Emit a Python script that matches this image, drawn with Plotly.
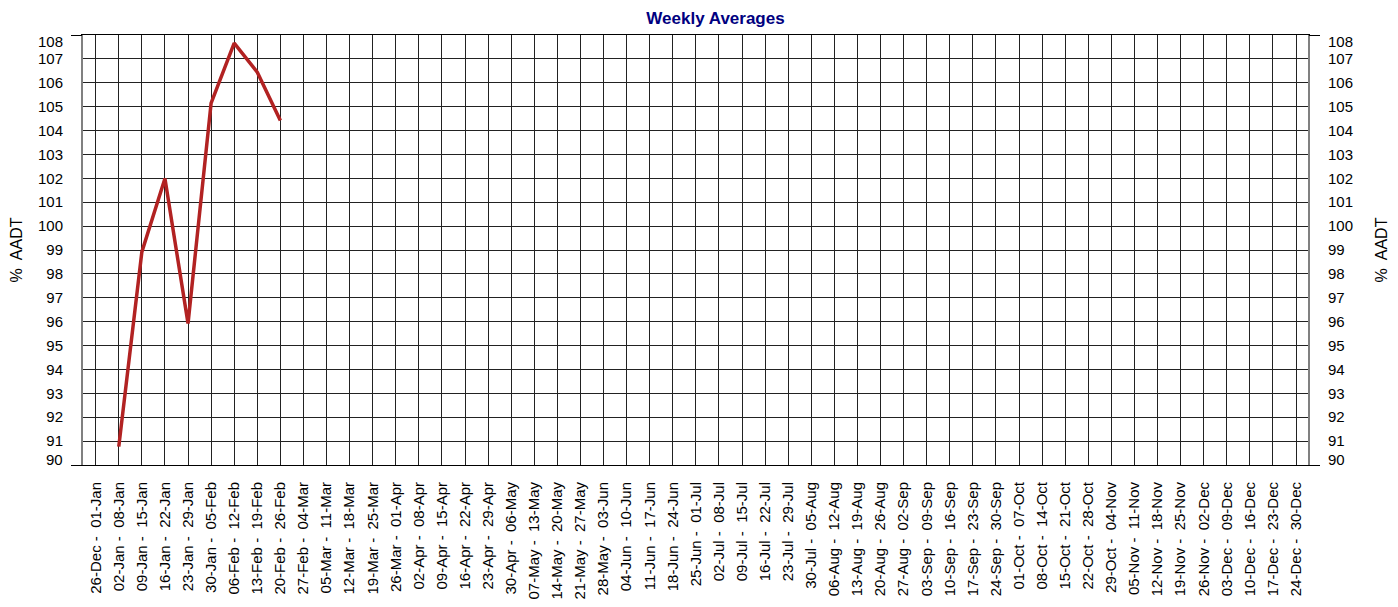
import plotly.graph_objects as go

week_starts = ["26-Dec", "02-Jan", "09-Jan", "16-Jan", "23-Jan", "30-Jan", "06-Feb", "13-Feb", "20-Feb",
               "27-Feb", "05-Mar", "12-Mar", "19-Mar", "26-Mar", "02-Apr", "09-Apr", "16-Apr", "23-Apr",
               "30-Apr", "07-May", "14-May", "21-May", "28-May", "04-Jun", "11-Jun", "18-Jun", "25-Jun",
               "02-Jul", "09-Jul", "16-Jul", "23-Jul", "30-Jul", "06-Aug", "13-Aug", "20-Aug", "27-Aug",
               "03-Sep", "10-Sep", "17-Sep", "24-Sep", "01-Oct", "08-Oct", "15-Oct", "22-Oct", "29-Oct",
               "05-Nov", "12-Nov", "19-Nov", "26-Nov", "03-Dec", "10-Dec", "17-Dec", "24-Dec"]
week_ends = ["01-Jan", "08-Jan", "15-Jan", "22-Jan", "29-Jan", "05-Feb", "12-Feb", "19-Feb", "26-Feb",
             "04-Mar", "11-Mar", "18-Mar", "25-Mar", "01-Apr", "08-Apr", "15-Apr", "22-Apr", "29-Apr",
             "06-May", "13-May", "20-May", "27-May", "03-Jun", "10-Jun", "17-Jun", "24-Jun", "01-Jul",
             "08-Jul", "15-Jul", "22-Jul", "29-Jul", "05-Aug", "12-Aug", "19-Aug", "26-Aug", "02-Sep",
             "09-Sep", "16-Sep", "23-Sep", "30-Sep", "07-Oct", "14-Oct", "21-Oct", "28-Oct", "04-Nov",
             "11-Nov", "18-Nov", "25-Nov", "02-Dec", "09-Dec", "16-Dec", "23-Dec", "30-Dec"]
pct_aadt = [None, 90.77, 98.92, 101.99, 95.92, 105.15, 107.66, 106.44, 104.42]
y_ticks = list(range(90, 109))

NB = "\u00a0"
categories = [f"{s}{NB}-{NB}{NB}{e}" for s, e in zip(week_starts, week_ends)]
x_idx = list(range(len(categories)))
values = pct_aadt + [None] * (len(categories) - len(pct_aadt))

FONT = "Arial, Liberation Sans, sans-serif"
TICK_SIZE = 15

# axis tick labels: ends of the range are nudged inward as in the original
inner_ticks = y_ticks[1:-1]
end_vals = [y_ticks[0], y_ticks[-1]]
end_ticks = [(y_ticks[0], 6), (y_ticks[-1], -6)]

fig = go.Figure()
fig.add_trace(go.Scatter(x=x_idx, y=values, mode="lines",
                         line=dict(color="#B22222", width=3.5), connectgaps=False,
                         showlegend=False, hoverinfo="x+y"))
for ax in ["y2", "y3", "y4"]:
    fig.add_trace(go.Scatter(x=x_idx, y=values, mode="lines", yaxis=ax,
                             line=dict(color="rgba(0,0,0,0)", width=0),
                             showlegend=False, hoverinfo="skip"))

annotations = []
for val, shift in end_ticks:
    annotations.append(dict(xref="paper", yref="y", x=0, y=val, text=str(val), showarrow=False,
                            xanchor="right", yanchor="middle", xshift=-18, yshift=shift,
                            font=dict(family=FONT, size=TICK_SIZE, color="black")))
    annotations.append(dict(xref="paper", yref="y", x=1, y=val, text=str(val), showarrow=False,
                            xanchor="left", yanchor="middle", xshift=18, yshift=shift,
                            font=dict(family=FONT, size=TICK_SIZE, color="black")))

end_tick_axis = dict(range=[90, 108], tickvals=end_vals, overlaying="y", showgrid=False,
                     showline=False, zeroline=False, showticklabels=False, ticks="outside",
                     ticklen=11, tickwidth=1, tickcolor="black", automargin=False)

fig.update_layout(
    width=1390, height=599,
    paper_bgcolor="white", plot_bgcolor="white",
    margin=dict(l=75, r=90, t=27, b=142, autoexpand=False),
    font=dict(family=FONT, size=TICK_SIZE, color="black"),
    title=dict(text="<b>Weekly Averages</b>", x=0.509, xanchor="center", y=0.983, yanchor="middle",
               font=dict(family=FONT, size=17, color="#000080")),
    annotations=annotations,
    xaxis=dict(
        tickmode="array", tickvals=x_idx, ticktext=categories, tickangle=-90,
        range=[-0.55, 52.52], showgrid=True, gridcolor="#222222", gridwidth=1,
        showline=True, linecolor="black", linewidth=1, mirror=True,
        zeroline=False, ticks="", tickfont=dict(size=TICK_SIZE), automargin=False,
        ticklabelstandoff=10,
    ),
    yaxis=dict(
        range=[90, 108], tickvals=inner_ticks, showgrid=True, gridcolor="#222222", gridwidth=1,
        showline=True, linecolor="#808080", linewidth=2, zeroline=False,
        ticks="", ticklabelstandoff=15, tickfont=dict(size=TICK_SIZE), automargin=False,
        title=dict(text="%  AADT", font=dict(size=16), standoff=12),
    ),
    yaxis2=dict(
        range=[90, 108], tickvals=inner_ticks, overlaying="y", side="right", showgrid=False,
        showline=True, linecolor="#808080", linewidth=2, zeroline=False,
        ticks="", ticklabelstandoff=15, tickfont=dict(size=TICK_SIZE), automargin=False,
        title=dict(text="%  AADT", font=dict(size=16), standoff=24),
    ),
    yaxis3=dict(side="left", **end_tick_axis),
    yaxis4=dict(side="right", **end_tick_axis),
)

fig.write_html("out.html")
